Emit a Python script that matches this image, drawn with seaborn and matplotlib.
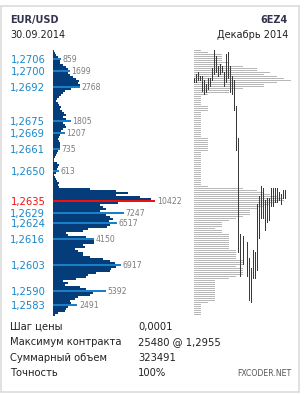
import numpy as np
import pandas as pd
import matplotlib
matplotlib.use("Agg")
import matplotlib.pyplot as plt
import seaborn as sns
from matplotlib.patches import Rectangle

# ---------------- data ----------------
# volume profile (EUR/USD), one value per price step of 0.0001, from 1.2710 down
volumes = [150, 240, 340, 480, 859, 680, 680, 1020, 1360, 1530,
           1699, 1560, 1770, 2040, 2310, 2650, 2550, 2720, 2768, 1870,
           1190, 1020, 850, 610, 410, 340, 510, 610, 850, 750,
           950, 1090, 1360, 1020, 1360, 1805, 1020, 1190, 1290, 1020,
           850, 1207, 680, 600, 500, 600, 680, 750, 680, 735,
           550, 400, 270, 200, 140, 140, 400, 600, 550, 400,
           613, 340, 140, 200, 270, 400, 600, 550, 600, 3740,
           6460, 7650, 6460, 8840, 10030, 10422, 6630, 4760, 5100, 5440,
           4760, 7247, 5440, 5780, 6120, 5700, 6517, 5780, 5500, 3570,
           3060, 1360, 1530, 3400, 4150, 4150, 4150, 3060, 3230, 2210,
           2550, 3060, 3060, 3740, 5100, 5780, 6290, 6917, 6460, 5950,
           5780, 4420, 3570, 3400, 2380, 1020, 1530, 1190, 2720, 3400,
           5392, 4080, 3740, 2550, 2210, 1700, 1870, 2491, 1530, 1360,
           1190, 510, 170]
price_levels = [round(1.2710 - i * 0.0001, 4) for i in range(len(volumes))]

# futures (6EZ4) profile, relative levels per price step
futures_profile = [1, 2, 4, 4, 4, 4, 5, 4, 7, 9,
                   9, 11, 10, 12, 13, 14, 12, 10, 10, 7,
                   5, 5, 2, 1, 1, 1, 1, 1, 2, 2,
                   2, 1, 1, 1, 1, 1, 1, 1, 1, 1,
                   1, 1, 1, 1, 2, 2, 2, 2, 2, 2,
                   2, 1, 1, 1, 1, 1, 1, 1, 1, 1,
                   1, 1, 1, 1, 1, 1, 1, 1, 2, 7,
                   9, 10, 11, 12, 13, 13, 12, 11, 10, 9,
                   8, 8, 8, 7, 6, 5, 4, 4, 4, 3,
                   4, 4, 5, 5, 5, 5, 5, 5, 5, 5,
                   6, 6, 6, 6, 6, 7, 7, 7, 6, 7,
                   7, 7, 7, 6, 5, 3, 3, 3, 3, 3,
                   3, 3, 3, 3, 3, 3, 2, 1, 1, 1,
                   1, 1, 1]

# price bars (high / low) of the futures chart
bar_high = [1.2696, 1.2698, 1.2699, 1.2697, 1.2697, 1.2695, 1.2693, 1.2696, 1.2696, 1.2701,
            1.2710, 1.2707, 1.2702, 1.2703, 1.2702, 1.2699, 1.2708, 1.2709, 1.2702, 1.2697,
            1.2695, 1.2682, 1.2666, 1.2618, 1.2617, None, 1.2614, 1.2606, 1.2601, 1.2610,
            1.2609, 1.2633, 1.2637, 1.2642, 1.2641, 1.2635, 1.2636, 1.2636, 1.2641, 1.2641,
            1.2641, 1.2641, 1.2639, 1.2638, 1.2640, 1.2640]
bar_low = [1.2694, 1.2694, 1.2695, 1.2695, 1.2690, 1.2688, 1.2689, 1.2691, 1.2692, 1.2695,
           1.2698, 1.2699, 1.2697, 1.2698, 1.2699, 1.2692, 1.2694, 1.2696, 1.2689, 1.2688,
           1.2680, 1.2660, 1.2609, 1.2597, 1.2603, None, 1.2597, 1.2585, 1.2584, 1.2596,
           1.2596, 1.2600, 1.2616, 1.2626, 1.2626, 1.2620, 1.2624, 1.2625, 1.2632, 1.2632,
           1.2634, 1.2634, 1.2635, 1.2633, 1.2636, 1.2636]

key_levels = [1.2706, 1.2700, 1.2692, 1.2675, 1.2669, 1.2661, 1.2650,
              1.2635, 1.2629, 1.2624, 1.2616, 1.2603, 1.2590, 1.2583]
poc_level = 1.2635

header_left = ["EUR/USD", "30.09.2014"]
header_right = ["6EZ4", "Декабрь 2014"]
info_names = ["Шаг цены", "Максимум контракта", "Суммарный объем", "Точность"]
info_values = ["0,0001", "25480 @ 1,2955", "323491", "100%"]
site = "FXCODER.NET"

# ---------------- styling ----------------
NAVY = "#053d7b"
BLUE = "#1a80c6"
RED = "#f01010"
TICKBLUE = "#1987cc"
GRAY_HIST = "#b8b8b8"
BAR_DARK = "#3a3a3a"

sns.set_theme(style="white")
plt.rcParams['font.family'] = ['DejaVu Sans']

W, H = 307, 394
fig = plt.figure(figsize=(W / 100, H / 100), dpi=100)
fig.patch.set_facecolor("white")


def rect(x0, y0, x1, y1):
    return [x0 / W, 1 - y1 / H, (x1 - x0) / W, (y1 - y0) / H]


def ftext(x, y, s, **kw):
    fig.text(x / W, 1 - y / H, s, **kw)


# row table
df = pd.DataFrame({"price": price_levels, "volume": volumes})
df["row"] = np.arange(len(df))
ticks = (df["price"] * 10000).round().astype(int)
key_ticks = [int(round(p * 10000)) for p in key_levels]
poc_tick = int(round(poc_level * 10000))
df["kind"] = np.where(ticks == poc_tick, "poc",
                      np.where(ticks.isin(key_ticks), "key", "normal"))

PX_PER_VOL = 1 / 102.0
TOP, BOT = 50, 316
nrows = len(df)

# ---------- left: spot volume profile ----------
axL = fig.add_axes(rect(53, TOP, 190, BOT))
sns.barplot(data=df, x="volume", y="row", hue="kind",
            palette={"normal": NAVY, "key": BLUE, "poc": RED},
            orient="h", native_scale=True, width=1.0, dodge=False,
            legend=False, errorbar=None, saturation=1, linewidth=0, ax=axL)
axL.set_xlim(0, 137 / PX_PER_VOL)
axL.set_ylim(nrows - 0.5, -0.5)
for s in axL.spines.values():
    s.set_visible(False)
axL.set_xticks([])
axL.set_xlabel("")
axL.set_ylabel("")
key_rows = df[df["kind"] != "normal"]
axL.set_yticks(key_rows["row"].tolist())
axL.set_yticklabels([f"{p:.4f}".replace(".", ",") for p in key_rows["price"]])
axL.tick_params(axis="y", length=0, pad=5.5, labelsize=7.2)
for lab, kind in zip(axL.get_yticklabels(), key_rows["kind"]):
    lab.set_color(RED if kind == "poc" else TICKBLUE)
for _, r in key_rows.iterrows():
    axL.text(r["volume"] + 160, r["row"], f"{int(r['volume'])}",
             va="center", ha="left", fontsize=5.6, color="#7c7c7c")
axL.patch.set_alpha(0)

# ---------- right: futures profile ----------
axR = fig.add_axes(rect(194, TOP, 296, BOT))
dfg = pd.DataFrame({"level": futures_profile,
                    "row": np.arange(len(futures_profile)) - 0.25})
sns.barplot(data=dfg, x="level", y="row", orient="h", native_scale=True,
            width=0.5, color=GRAY_HIST, saturation=1, linewidth=0,
            errorbar=None, ax=axR)
axR.set_xlim(0, 102 / 6.95)
axR.set_ylim(nrows - 0.5, -0.5)
axR.axis("off")

axC = fig.add_axes(rect(194, TOP, 296, BOT))
axC.patch.set_alpha(0)
for j, (hi, lo) in enumerate(zip(bar_high, bar_low)):
    if hi is None:
        continue
    k_hi = (1.2710 - hi) / 0.0001
    k_lo = (1.2710 - lo) / 0.0001
    axC.vlines(j, k_hi - 0.5, k_lo - 0.25, color=BAR_DARK, linewidth=0.72,
               antialiased=False)
axC.set_xlim(-0.25, 50.75)
axC.set_ylim(nrows - 0.5, -0.5)
axC.axis("off")

# ---------- header ----------
ftext(10, 20, header_left[0], fontsize=7, fontweight="bold", color="#34344e",
      va="center", ha="left")
ftext(288, 20, header_right[0], fontsize=7, fontweight="bold", color="#34344e",
      va="center", ha="right")
ftext(10, 35, header_left[1], fontsize=7, color="#222222", va="center", ha="left")
ftext(288, 35, header_right[1], fontsize=7, color="#222222", va="center", ha="right")

# ---------- info ----------
for i, (n, v) in enumerate(zip(info_names, info_values)):
    y = 327 + i * 15.3
    ftext(10, y, n, fontsize=7.2, color="#222222", va="center", ha="left")
    ftext(138, y, v, fontsize=7.2, color="#222222", va="center", ha="left")
ftext(292, 373, site, fontsize=5.6, color="#555555", va="center", ha="right")

# ---------- frame ----------
fig.patches.append(Rectangle((0.75 / W, 1 - 391.5 / H), (298.5 - 0.75) / W,
                             (391.5 - 5.5) / H, transform=fig.transFigure,
                             fill=False, edgecolor="#d8d8d8", linewidth=1.1))

fig.savefig("out.png", dpi=100, facecolor="white")
